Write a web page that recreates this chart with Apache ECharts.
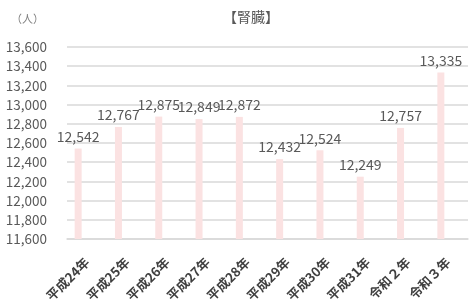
<!DOCTYPE html>
<html>
<head>
<meta charset="utf-8">
<script src="https://cdn.jsdelivr.net/npm/echarts@6/dist/echarts.min.js"></script>
<style>
  html, body { margin: 0; padding: 0; background: #fff; }
  #chart { width: 472px; height: 305px; }
</style>
</head>
<body>
<div id="chart"></div>
<script>
// 年度
var years = ['平成24年', '平成25年', '平成26年', '平成27年', '平成28年',
             '平成29年', '平成30年', '平成31年', '令和２年', '令和３年'];
// 腎臓 (人)
var kidney = [12542, 12767, 12875, 12849, 12872, 12432, 12524, 12249, 12757, 13335];

var yMin = 11600, yMax = 13600, yStep = 200;

var font = '"Noto Sans CJK JP", "Noto Sans", sans-serif';
var fmt = function (v) { return v.toLocaleString('en-US'); };
var chart = echarts.init(document.getElementById('chart'));

// grid 0 = bars, grid 1 = gridlines / category labels (plot area is a bit wider on the right)
chart.setOption({
    animation: false,
    textStyle: { fontFamily: font },
    title: [
        {
            text: '【腎臓】',
            left: 218,
            top: 5,
            textStyle: { fontSize: 14, fontWeight: 'normal', color: '#595959', fontFamily: font }
        },
        {
            text: '（人）',
            left: 6,
            top: 8,
            textStyle: { fontSize: 11, fontWeight: 'normal', color: '#7f7f7f', fontFamily: font }
        }
    ],
    grid: [
        { left: 58, right: 11, top: 47, bottom: 66 },
        { left: 67, right: 4, top: 47, bottom: 66 }
    ],
    xAxis: [
        {
            type: 'category',
            gridIndex: 0,
            data: years,
            axisTick: { show: false },
            axisLine: { show: false },
            axisLabel: { show: false }
        },
        {
            type: 'category',
            gridIndex: 1,
            data: years,
            axisTick: { show: false },
            axisLine: { lineStyle: { color: '#d9d9d9', width: 1.5 } },
            axisLabel: {
                rotate: 45,
                interval: 0,
                margin: 21,
                fontSize: 13,
                fontWeight: 'bold',
                color: '#404040',
                fontFamily: font
            }
        }
    ],
    yAxis: [
        {
            type: 'value',
            gridIndex: 0,
            min: yMin,
            max: yMax,
            interval: yStep,
            axisLine: { show: false },
            axisTick: { show: false },
            splitLine: { show: false },
            axisLabel: {
                fontSize: 13.5,
                color: '#595959',
                margin: 11,
                fontFamily: font,
                formatter: fmt
            }
        },
        {
            type: 'value',
            gridIndex: 1,
            min: yMin,
            max: yMax,
            interval: yStep,
            axisLine: { show: false },
            axisTick: { show: false },
            axisLabel: { show: false },
            splitLine: { lineStyle: { color: '#d9d9d9', width: 1.5 } }
        }
    ],
    series: [
        {
            type: 'bar',
            xAxisIndex: 0,
            yAxisIndex: 0,
            data: kidney,
            barWidth: 7,
            itemStyle: { color: '#fbe2e2' },
            z: 3,
            label: {
                show: true,
                position: 'top',
                distance: 5,
                fontSize: 14,
                color: '#595959',
                fontFamily: font,
                formatter: function (p) { return fmt(p.value); }
            }
        }
    ]
});
</script>
</body>
</html>
